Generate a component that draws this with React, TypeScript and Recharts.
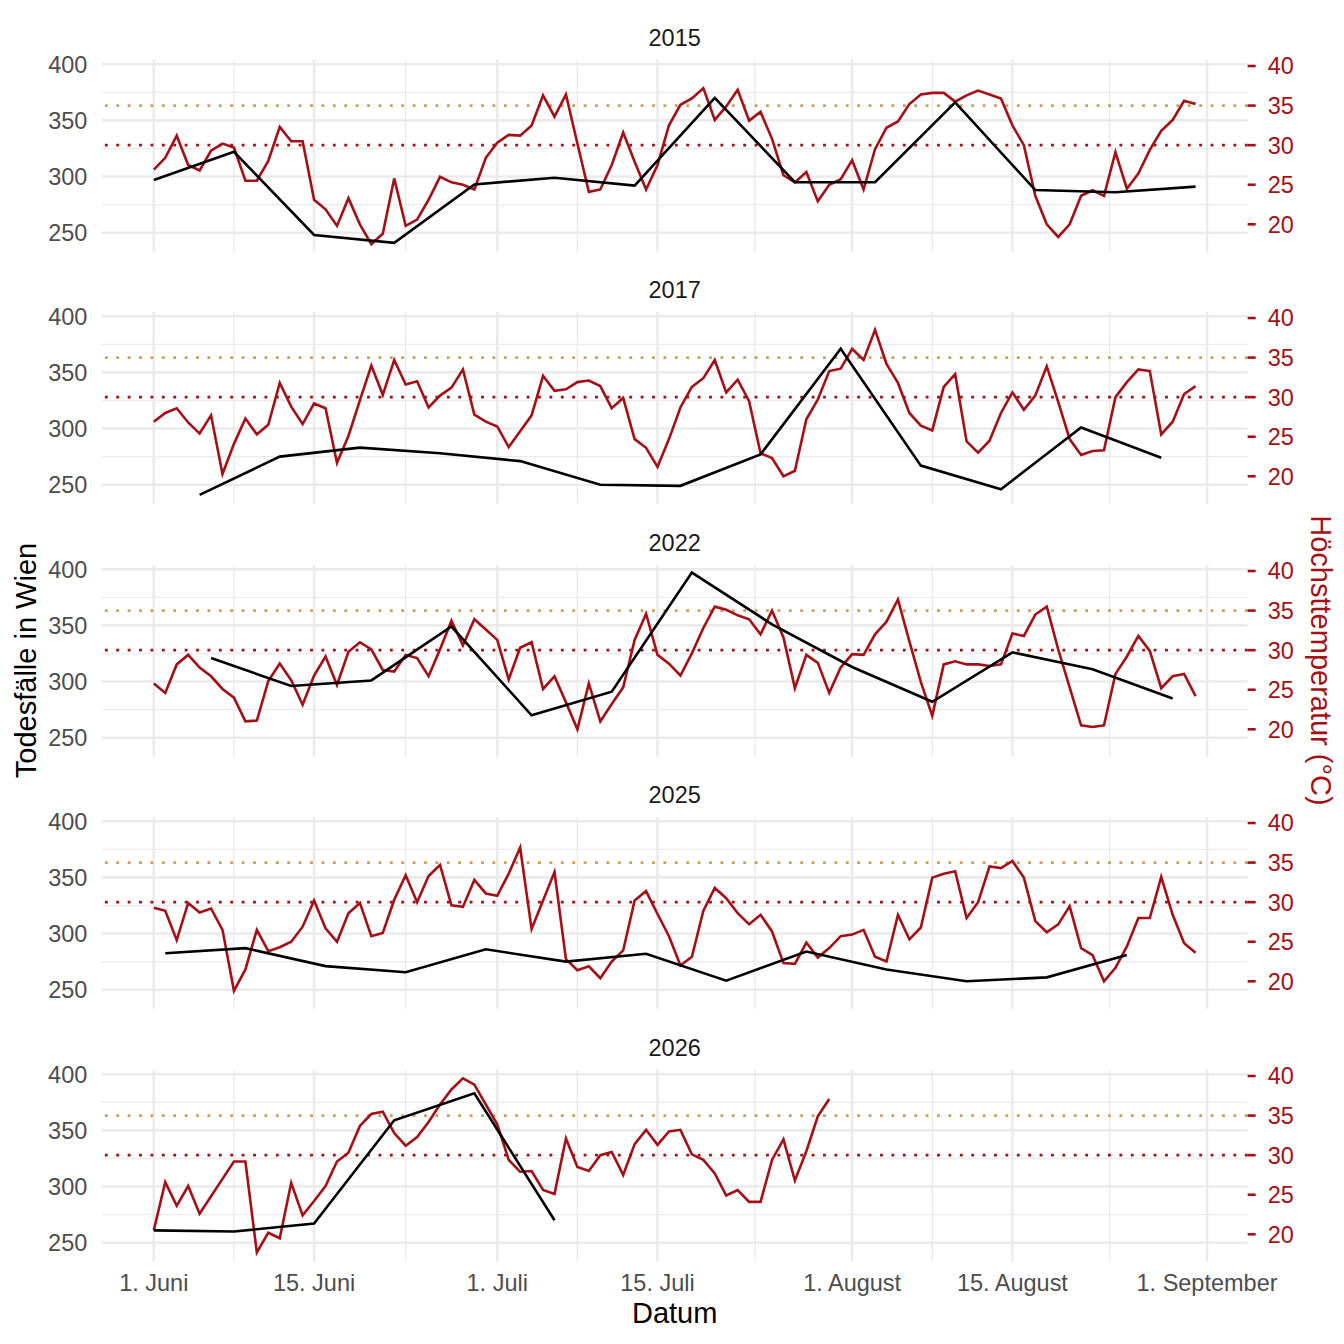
import React from 'react';
import { LineChart, Line, XAxis, YAxis, CartesianGrid, ReferenceLine } from 'recharts';

// ---------- data ----------
const years = ['2015', '2017', '2022', '2025', '2026'];

// daily maximum temperature (°C), index 0 = 1 June
const temp2015 = [
  26.9, 28.4, 31.2, 27.5, 26.8, 29.3, 30.2, 29.7, 25.5, 25.5,
  28.0, 32.3, 30.5, 30.5, 23.1, 21.9, 19.8, 23.3, 20.0, 17.5,
  18.8, 25.8, 19.8, 20.6, 23.1, 26.0, 25.3, 25.0, 24.4, 28.4,
  30.3, 31.3, 31.2, 32.5, 36.3, 33.6, 36.4, 30.2, 24.1, 24.4,
  27.5, 31.6, 27.9, 24.4, 27.5, 32.5, 35.1, 35.9, 37.2, 33.2,
  34.9, 37.0, 33.1, 34.2, 30.8, 26.2, 25.3, 26.6, 22.9, 25.0,
  25.7, 28.1, 24.4, 29.5, 32.2, 33.0, 35.2, 36.4, 36.6, 36.6,
  35.5, 36.3, 36.9, 36.4, 35.9, 32.5, 30.0, 23.6, 20.0, 18.4,
  20.0, 23.6, 24.3, 23.6, 29.1, 24.5, 26.4, 29.4, 31.8, 33.2,
  35.6, 35.2,
];
const temp2017 = [
  26.9, 28.0, 28.6, 26.8, 25.4, 27.7, 20.3, 24.1, 27.3, 25.3,
  26.5, 31.8, 28.8, 26.6, 29.2, 28.6, 21.7, 25.1, 29.6, 34.0,
  30.3, 34.7, 31.6, 32.0, 28.7, 30.2, 31.2, 33.5, 27.8, 26.9,
  26.3, 23.7, 25.7, 27.7, 32.7, 30.8, 31.0, 31.9, 32.1, 31.4,
  28.6, 29.9, 24.7, 23.6, 21.2, 24.7, 28.7, 31.3, 32.4, 34.7,
  30.6, 32.2, 29.5, 22.9, 22.3, 20.0, 20.7, 27.2, 29.7, 33.3,
  33.6, 36.1, 34.7, 38.5, 34.2, 31.8, 28.0, 26.4, 25.8, 31.3,
  32.9, 24.4, 23.0, 24.5, 28.0, 30.6, 28.4, 30.2, 33.9, 29.4,
  24.7, 22.7, 23.2, 23.3, 30.0, 31.9, 33.5, 33.3, 25.3, 26.9,
  30.4, 31.4,
];
const temp2022 = [
  25.8, 24.6, 28.2, 29.4, 27.8, 26.7, 25.1, 24.0, 21.0, 21.1,
  26.1, 28.3, 26.2, 23.1, 26.8, 29.2, 25.6, 29.8, 31.0, 30.1,
  27.5, 27.3, 29.4, 29.0, 26.7, 30.1, 33.7, 30.6, 33.9, 32.6,
  31.3, 26.3, 30.3, 31.0, 25.1, 26.7, 23.4, 20.0, 25.8, 21.0,
  23.2, 25.3, 31.3, 34.6, 29.4, 28.3, 26.8, 29.6, 32.8, 35.5,
  35.1, 34.4, 33.9, 32.0, 35.0, 31.6, 25.2, 29.4, 28.4, 24.6,
  27.8, 29.5, 29.4, 32.0, 33.6, 36.4, 31.1, 26.0, 21.7, 28.2,
  28.6, 28.2, 28.2, 28.0, 28.2, 32.1, 31.8, 34.5, 35.5, 30.1,
  25.3, 20.5, 20.3, 20.5, 27.0, 29.2, 31.8, 29.9, 25.2, 26.7,
  27.0, 24.2,
];
const temp2025 = [
  29.3, 28.9, 25.2, 29.9, 28.7, 29.2, 26.5, 18.8, 21.5, 26.5,
  23.8, 24.3, 25.0, 26.9, 30.2, 26.7, 25.0, 28.6, 29.9, 25.7,
  26.1, 30.3, 33.4, 30.0, 33.3, 34.7, 29.6, 29.4, 32.8, 31.1,
  30.8, 33.6, 36.9, 26.6, 30.2, 33.8, 22.8, 21.4, 21.9, 20.4,
  22.5, 23.9, 30.2, 31.4, 28.5, 25.7, 22.0, 23.1, 28.9, 31.8,
  30.5, 28.6, 27.2, 28.4, 26.3, 22.3, 22.2, 24.9, 23.0, 24.2,
  25.7, 25.9, 26.5, 23.1, 22.5, 28.4, 25.3, 26.8, 33.1, 33.6,
  33.9, 28.0, 30.0, 34.5, 34.3, 35.2, 33.1, 27.6, 26.2, 27.2,
  29.5, 24.2, 23.3, 20.0, 21.7, 24.4, 28.0, 28.0, 33.2, 28.4,
  24.8, 23.6,
];
const temp2026 = [
  20.5, 26.6, 23.6, 26.1, 22.6, 24.8, 27.0, 29.2, 29.2, 17.7,
  20.2, 19.5, 26.5, 22.4, 24.2, 26.1, 29.2, 30.3, 33.7, 35.2,
  35.5, 32.8, 31.2, 32.3, 34.2, 36.4, 38.3, 39.7, 38.9, 36.4,
  33.9, 29.4, 27.9, 28.0, 25.6, 25.1, 32.1, 28.5, 28.0, 30.0,
  30.4, 27.5, 31.4, 33.2, 31.3, 33.0, 33.2, 30.1, 29.4, 27.7,
  24.9, 25.6, 24.1, 24.1, 29.4, 32.0, 26.8, 30.5, 34.9, 37.1,
];

// weekly deaths in Vienna; first week's day index (0 = 1 June), then every 7 days
const deaths2015 = [297, 322, 248, 241, 293, 299, 292, 370, 295, 295, 366, 288, 286, 291];
const deathsStart2015 = 0;
const deaths2017 = [241, 275, 283, 278, 271, 250, 249, 277, 371, 267, 246, 301, 274];
const deathsStart2017 = 4;
const deaths2022 = [321, 296, 301, 349, 270, 291, 397, 351, 313, 282, 326, 311, 285];
const deathsStart2022 = 5;
const deaths2025 = [282.5, 287, 271, 265.5, 286, 275, 282, 258, 284, 268, 257.5, 261, 281];
const deathsStart2025 = 1;
const deaths2026 = [261, 260, 267, 359, 383, 270];
const deathsStart2026 = 0;

const xTickDays = [0, 14, 30, 44, 61, 75, 92];
const xTickLabels = ['1. Juni', '15. Juni', '1. Juli', '15. Juli', '1. August', '15. August', '1. September'];
const xMinorDays = [7, 22, 37, 52.5, 68, 83.5];
const deathTicks = [250, 300, 350, 400];
const deathMinor = [275, 325, 375];
const tempTicks = [20, 25, 30, 35, 40];
const tempThresholds = [30, 35];

const seriesByYear = [
  { temps: temp2015, deaths: deaths2015, start: deathsStart2015 },
  { temps: temp2017, deaths: deaths2017, start: deathsStart2017 },
  { temps: temp2022, deaths: deaths2022, start: deathsStart2022 },
  { temps: temp2025, deaths: deaths2025, start: deathsStart2025 },
  { temps: temp2026, deaths: deaths2026, start: deathsStart2026 },
];

// ---------- styling / layout ----------
const FONT = '"Liberation Sans", Arial, Helvetica, sans-serif';
const RED = '#A50F15';
const TAN = '#C9A15F';
const GRID = '#EBEBEB';
const TICK_GREY = '#4D4D4D';
const LINE_W = 2.6;

const PLOT_LEFT = 101.7;
const PLOT_RIGHT = 1247.7;
const PLOT_H = 191.7;
const FIRST_TOP = 60;
const PITCH = 252.4;
const TICK_FS = 23.5;
const TITLE_FS = 29;

const xDomain = [-4.55, 95.55];
const deathDomain = [233.1, 403.8];
const tempDomain = [16.54, 40.76];

function Panel({ index }: { index: number }) {
  const { temps, deaths, start } = seriesByYear[index];
  const last = index === years.length - 1;
  const rows = temps.map((t, d) => {
    const k = (d - start) / 7;
    const has = k >= 0 && Number.isInteger(k) && k < deaths.length;
    return { d, temp: t, deaths: has ? deaths[k] : null };
  });
  const padTop = 22;
  const padBottom = 16;
  const xAxisH = last ? 44 : 0;
  const height = padTop + PLOT_H + padBottom + xAxisH;
  const top = FIRST_TOP + PITCH * index - padTop;
  return (
    <div style={{ position: 'absolute', left: 0, top, width: 1344, height }}>
      <LineChart
        width={1344}
        height={height}
        data={rows}
        margin={{ top: padTop, right: 0, bottom: padBottom, left: 0 }}
      >
        <CartesianGrid
          horizontalValues={deathMinor}
          verticalValues={xMinorDays}
          stroke={GRID}
          strokeWidth={1.4}
        />
        <CartesianGrid
          horizontalValues={deathTicks}
          verticalValues={xTickDays}
          stroke={GRID}
          strokeWidth={2.6}
        />
        <XAxis
          type="number"
          dataKey="d"
          domain={xDomain}
          allowDataOverflow
          ticks={xTickDays}
          interval={0}
          hide={!last}
          height={xAxisH}
          axisLine={false}
          tickLine={false}
          tickSize={0}
          tickMargin={12.5}
          tickFormatter={(v: number) => xTickLabels[xTickDays.indexOf(v)] ?? ''}
          tick={{ fill: TICK_GREY, fontSize: TICK_FS, fontFamily: FONT }}
        />
        <YAxis
          type="number"
          domain={deathDomain}
          allowDataOverflow
          ticks={deathTicks}
          interval={0}
          width={PLOT_LEFT}
          axisLine={false}
          tickLine={false}
          tickSize={0}
          tickMargin={14.4}
          tick={{ fill: TICK_GREY, fontSize: TICK_FS, fontFamily: FONT }}
        />
        <YAxis
          yAxisId="temp"
          orientation="right"
          type="number"
          domain={tempDomain}
          allowDataOverflow
          ticks={tempTicks}
          interval={0}
          width={1344 - PLOT_RIGHT}
          axisLine={false}
          tickLine={{ stroke: RED, strokeWidth: 2.6 }}
          tickSize={8}
          tickMargin={12}
          tick={{ fill: RED, fontSize: TICK_FS, fontFamily: FONT }}
        />
        <ReferenceLine
          yAxisId="temp"
          y={tempThresholds[0]}
          stroke={RED}
          strokeWidth={2.85}
          strokeDasharray="2.85 8.55"
        />
        <ReferenceLine
          yAxisId="temp"
          y={tempThresholds[1]}
          stroke={TAN}
          strokeWidth={2.85}
          strokeDasharray="2.85 8.55"
        />
        <Line
          yAxisId="temp"
          type="linear"
          dataKey="temp"
          stroke={RED}
          strokeWidth={LINE_W}
          dot={false}
          activeDot={false}
          isAnimationActive={false}
        />
        <Line
          type="linear"
          dataKey="deaths"
          stroke="#000000"
          strokeWidth={LINE_W}
          dot={false}
          activeDot={false}
          connectNulls
          isAnimationActive={false}
        />
      </LineChart>
    </div>
  );
}

const textBase: React.CSSProperties = {
  position: 'absolute',
  fontFamily: FONT,
  whiteSpace: 'nowrap',
  textAlign: 'center',
};

export default function App() {
  const centerX = (PLOT_LEFT + PLOT_RIGHT) / 2;
  const midY = FIRST_TOP + (PITCH * 4 + PLOT_H) / 2;
  return (
    <div
      style={{
        position: 'absolute',
        left: 0,
        top: 0,
        width: 1344,
        height: 1344,
        background: '#FFFFFF',
        fontFamily: FONT,
        overflow: 'hidden',
      }}
    >
      {years.map((y, i) => (
        <div
          key={y}
          style={{
            ...textBase,
            left: centerX - 100,
            width: 200,
            top: 38.5 + PITCH * i - TICK_FS * 0.49,
            height: TICK_FS,
            lineHeight: `${TICK_FS}px`,
            fontSize: TICK_FS,
            color: '#1A1A1A',
          }}
        >
          {y}
        </div>
      ))}
      {years.map((y, i) => (
        <Panel key={y} index={i} />
      ))}
      <div
        style={{
          ...textBase,
          left: 26 - 200,
          width: 400,
          top: midY - TITLE_FS / 2,
          height: TITLE_FS,
          lineHeight: `${TITLE_FS}px`,
          fontSize: TITLE_FS,
          color: '#000000',
          transform: 'rotate(-90deg)',
        }}
      >
        Todesfälle in Wien
      </div>
      <div
        style={{
          ...textBase,
          left: 1320 - 200,
          width: 400,
          top: midY - TITLE_FS / 2,
          height: TITLE_FS,
          lineHeight: `${TITLE_FS}px`,
          fontSize: TITLE_FS,
          color: RED,
          transform: 'rotate(90deg)',
        }}
      >
        Höchsttemperatur (°C)
      </div>
      <div
        style={{
          ...textBase,
          left: centerX - 150,
          width: 300,
          top: 1313 - TITLE_FS * 0.49,
          height: TITLE_FS,
          lineHeight: `${TITLE_FS}px`,
          fontSize: TITLE_FS,
          color: '#000000',
        }}
      >
        Datum
      </div>
    </div>
  );
}
